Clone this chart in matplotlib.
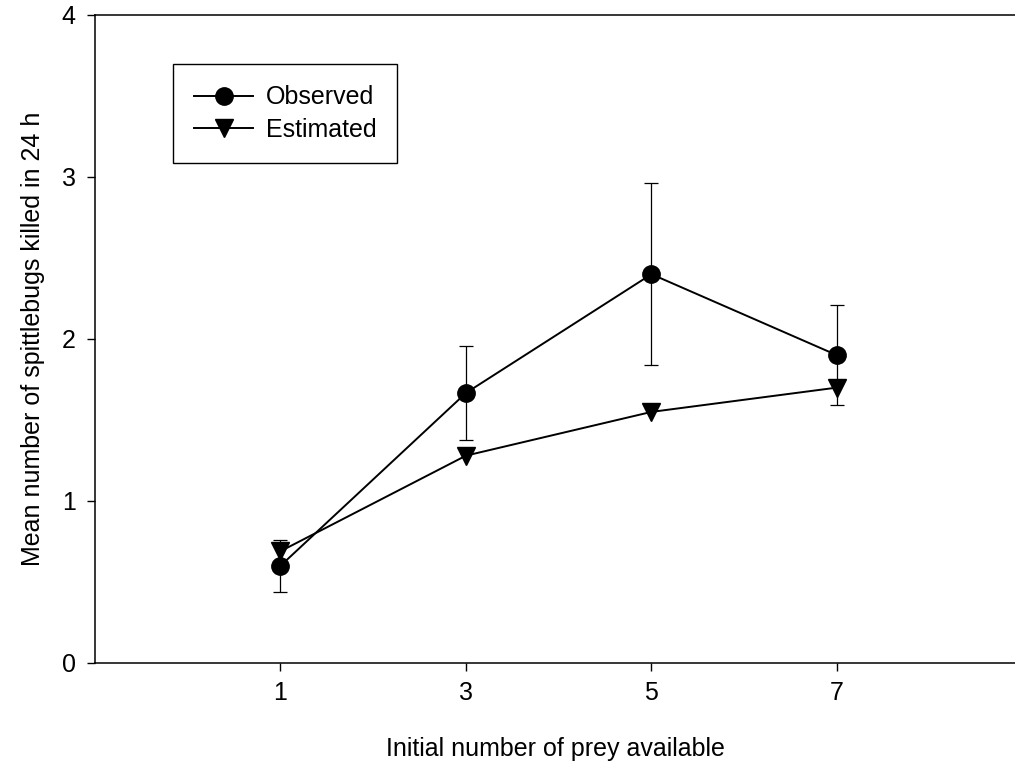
import matplotlib
matplotlib.use('Agg')
from matplotlib import pyplot as plt
from matplotlib.lines import Line2D

plt.rcParams['font.family'] = ['Liberation Sans', 'DejaVu Sans']

# data
prey = [1, 3, 5, 7]
observed = [0.60, 1.667, 2.40, 1.90]
observed_err = [0.16, 0.29, 0.56, 0.31]
estimated = [0.69, 1.28, 1.55, 1.70]

fig = plt.figure(figsize=(10.15, 7.73), dpi=100)
ax = fig.add_axes([95 / 1015, 1 - 663 / 773, 1 - 95 / 1015, (663 - 15) / 773])

ax.errorbar(prey, observed, yerr=observed_err, color='black', lw=1.4,
            marker='o', ms=12.5, capsize=5, elinewidth=0.9, capthick=0.9,
            zorder=3)
ax.plot(prey, estimated, color='black', lw=1.4, marker='v', ms=12.5, zorder=4)

ax.set_xlim(-1, 8.92)
ax.set_ylim(0, 4)
ax.set_xticks(prey)
ax.set_yticks([0, 1, 2, 3, 4])
ax.tick_params(direction='out', length=6, width=1.0, labelsize=18)
ax.tick_params(axis='x', pad=7)
ax.tick_params(axis='y', pad=8)
ax.spines['right'].set_visible(False)
for s in ['left', 'top', 'bottom']:
    ax.spines[s].set_linewidth(1.1)

ax.set_xlabel('Initial number of prey available', fontsize=18, labelpad=23)
ax.set_ylabel('Mean number of spittlebugs killed in 24 h', fontsize=18, labelpad=12)

h = [Line2D([], [], color='black', marker='o', ms=12.5, lw=1.4),
     Line2D([], [], color='black', marker='v', ms=12.5, lw=1.4)]
leg = ax.legend(h, ['Observed', 'Estimated'], loc='upper left',
                bbox_to_anchor=((173 - 95) / 920, 1 - (64 - 15) / 648),
                borderaxespad=0, fontsize=18,
                fancybox=False, framealpha=1, edgecolor='black',
                handlelength=2.35, handletextpad=0.5, borderpad=0.85,
                labelspacing=0.35)
leg.get_frame().set_linewidth(1.0)

fig.savefig('out.png', dpi=100)
